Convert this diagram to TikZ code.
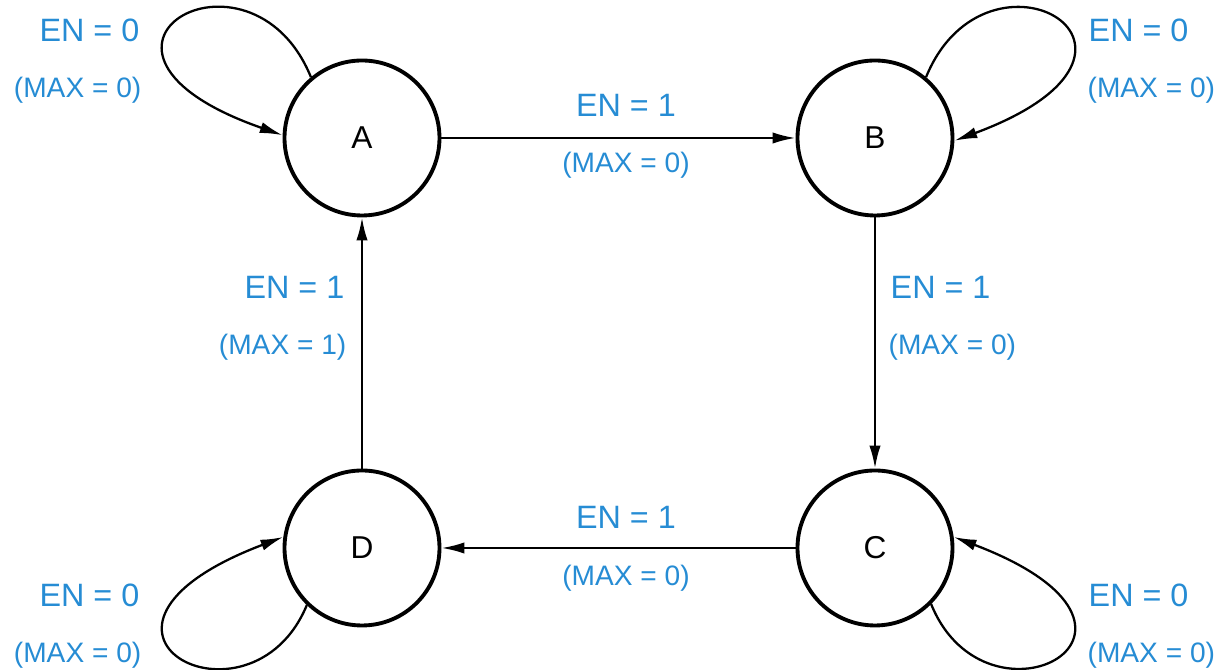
\documentclass[tikz,border=0pt]{standalone}
\usepackage{fontspec}
\setmainfont{Liberation Sans}
\usepackage{tikz}
\usetikzlibrary{arrows.meta}
\definecolor{condblue}{RGB}{38,140,212}

\begin{document}
\begin{tikzpicture}[>={Latex[length=6.5pt,width=3.2pt]}]
  \tikzstyle{every circle node}=[draw,line width=1.1pt,inner sep=0pt,minimum size=15.5mm,font=\fontsize{9}{10}\selectfont]
  \tikzstyle{entext}=[text=condblue,inner sep=0pt,font=\fontsize{9.2}{10}\selectfont]
  \tikzstyle{maxtext}=[text=condblue,inner sep=0pt,font=\fontsize{8}{9}\selectfont]
  \useasboundingbox (0,0) rectangle (12.17,6.70);

  \draw (3.62,5.32) node[circle] (A) {A};
  \draw (8.75,5.32) node[circle] (B) {B};
  \draw (8.75,1.22) node[circle] (C) {C};
  \draw (3.62,1.22) node[circle] (D) {D};

  % transitions
  \draw[->,line width=0.65pt] (A) -- (B);
  \draw[->,line width=0.65pt] (B) -- (C);
  \draw[->,line width=0.65pt] (C) -- (D);
  \draw[->,line width=0.65pt] (D) -- (A);

  % self loops
  \draw[->,line width=0.65pt] (A.130) .. controls (2.50,7.42) and (0.38,6.20) .. (A.178);
  \draw[->,line width=0.65pt] (B.50) .. controls (9.87,7.42) and (11.99,6.20) .. (B.-2);
  \draw[->,line width=0.65pt] (C.-45) .. controls (9.87,-0.72) and (11.99,0.40) .. (C.8);
  \draw[->,line width=0.65pt] (D.226) .. controls (2.50,-0.72) and (0.38,0.40) .. (D.172);

  % conditions
  \node[entext,anchor=east] (enA) at (1.40,6.40) {EN = 0};
  \node[maxtext,anchor=east] (mxA) at (1.42,5.80) {(MAX = 0)};
  \node[entext,anchor=west] (enB) at (10.88,6.40) {EN = 0};
  \node[maxtext,anchor=west] (mxB) at (10.87,5.80) {(MAX = 0)};
  \node[entext,anchor=west] (enC) at (10.88,0.75) {EN = 0};
  \node[maxtext,anchor=west] (mxC) at (10.87,0.15) {(MAX = 0)};
  \node[entext,anchor=east] (enD) at (1.40,0.75) {EN = 0};
  \node[maxtext,anchor=east] (mxD) at (1.42,0.15) {(MAX = 0)};

  \node[entext] (enAB) at (6.26,5.65) {EN = 1};
  \node[maxtext] (mxAB) at (6.26,5.05) {(MAX = 0)};
  \node[entext,anchor=west] (enBC) at (8.90,3.83) {EN = 1};
  \node[maxtext,anchor=west] (mxBC) at (8.88,3.23) {(MAX = 0)};
  \node[entext] (enCD) at (6.26,1.53) {EN = 1};
  \node[maxtext] (mxCD) at (6.26,0.92) {(MAX = 0)};
  \node[entext,anchor=east] (enDA) at (3.45,3.83) {EN = 1};
  \node[maxtext,anchor=east] (mxDA) at (3.47,3.23) {(MAX = 1)};

\end{tikzpicture}
\end{document}
